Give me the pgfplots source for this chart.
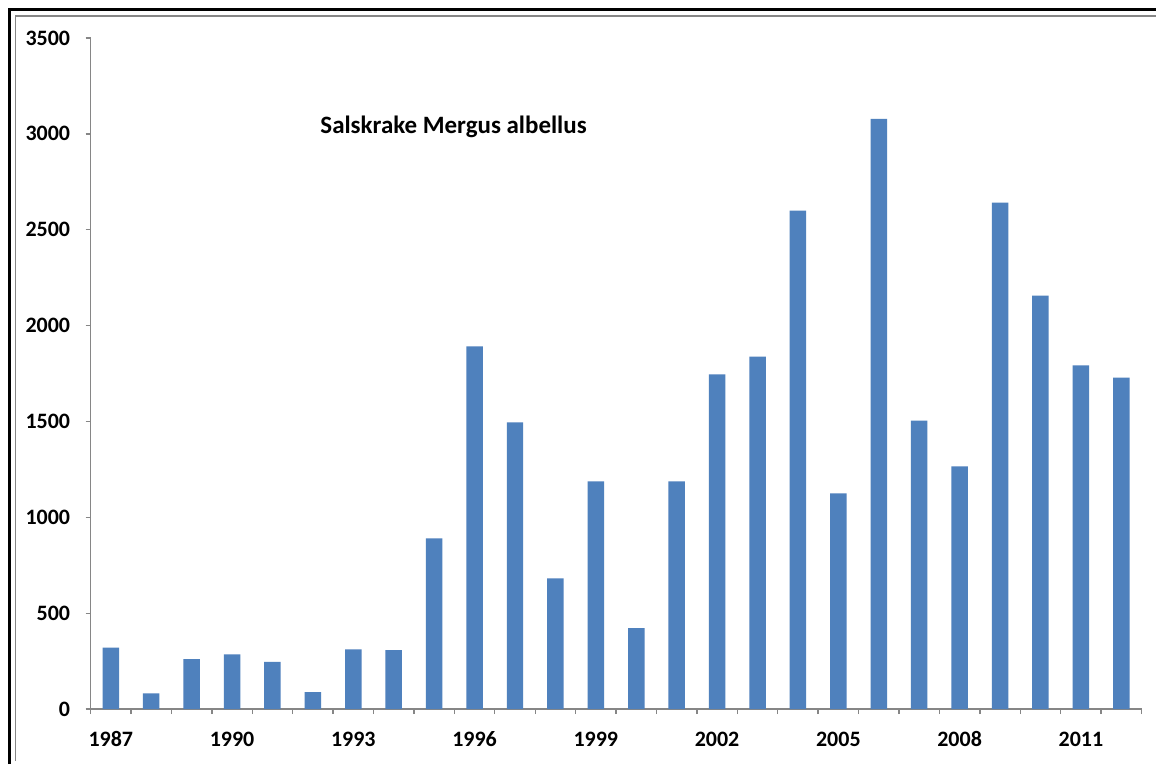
\documentclass[border=0pt]{standalone}
\usepackage{pgfplots}
\pgfplotsset{compat=1.18}
\usepackage{fontspec}
\setmainfont{Carlito}
\definecolor{barblue}{HTML}{4F81BD}
\definecolor{axgray}{HTML}{868686}
\pgfplotstableread{
x year value
0 1987 321
1 1988 82
2 1989 260
3 1990 285
4 1991 246
5 1992 89
6 1993 311
7 1994 307
8 1995 890
9 1996 1891
10 1997 1495
11 1998 682
12 1999 1187
13 2000 422
14 2001 1187
15 2002 1745
16 2003 1838
17 2004 2599
18 2005 1125
19 2006 3078
20 2007 1505
21 2008 1266
22 2009 2641
23 2010 2156
24 2011 1792
25 2012 1729
}\datatable
\begin{document}
\begin{tikzpicture}[x=1pt,y=1pt]
\path[fill=white] (0,0) rectangle (1157,-765);
% borders
\draw[axgray, line width=1.5pt] (15.5,-762) -- (15.5,-16) -- (1157,-16);
\draw[black, line width=3pt] (9.5,-765) -- (9.5,-10) -- (1157,-10);
\begin{axis}[
  at={(90.7pt,-710pt)}, anchor=south west,
  scale only axis, width=1052.3pt, height=672pt,
  xmin=-0.5, xmax=25.5, ymin=0, ymax=3500,
  axis x line*=bottom, axis y line*=left,
  axis line style={axgray, line width=1.4pt},
  ytick={0,500,...,3500},
  xtick={-0.5,0.5,...,25.5}, xticklabels={},
  extra x ticks={0,3,6,9,12,15,18,21,24},
  extra x tick labels={1987,1990,1993,1996,1999,2002,2005,2008,2011},
  extra x tick style={major tick length=0pt, tick style={draw=none}},
  tick align=outside, major tick length=5pt,
  tick style={axgray, line width=1.4pt},
  ticklabel style={font=\fontsize{22}{24}\selectfont\bfseries},
  /pgf/number format/assume math mode=true,
  /pgf/number format/1000 sep={},
  yticklabel style={xshift=-12pt},
  xticklabel style={yshift=-19pt},
  ybar, bar width=16.5pt,
  clip=false,
]
\addplot[fill=barblue, draw=none] table[x=x, y=value] {\datatable};
\node[font=\fontsize{25}{30}\selectfont\bfseries, anchor=center] at (axis cs:8.48,3036) {Salskrake Mergus albellus};
\end{axis}
\end{tikzpicture}
\end{document}
